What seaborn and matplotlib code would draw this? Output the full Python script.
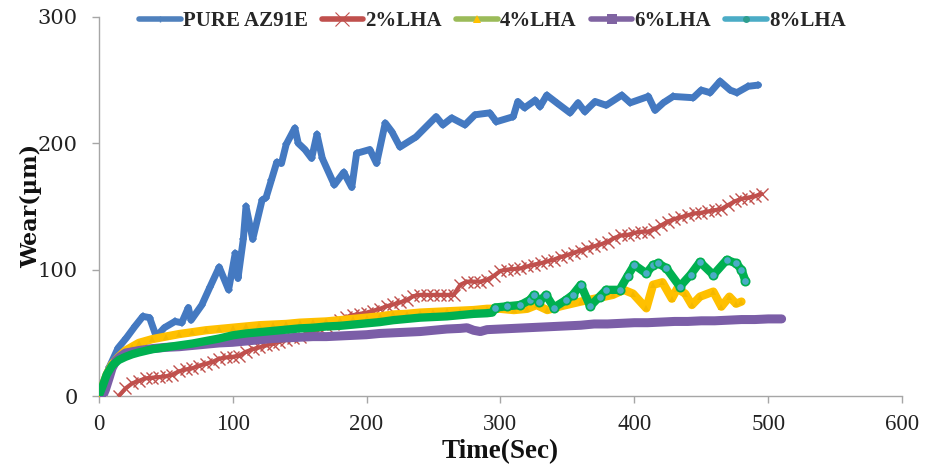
import matplotlib
matplotlib.use("Agg")
import matplotlib.pyplot as plt
from matplotlib.lines import Line2D
import seaborn as sns
import pandas as pd

# ---------------- data ----------------
pure_t = [0, 4, 8, 14.5, 20.7, 27, 33, 38, 43, 49, 57, 62, 67, 69, 77, 83, 90, 97, 102, 104,
          108, 110, 115, 122, 125, 129, 133, 136.5, 140, 146.5, 149, 154, 159, 163, 167, 176,
          183, 189, 192.6, 202.5, 207.5, 214, 219, 225, 237, 252, 257, 263.6, 273.5, 281, 292,
          297, 309.6, 313, 318, 326, 329.6, 334.6, 342, 352, 358, 363, 370.7, 379, 390.6, 397,
          410.5, 415.5, 421.7, 429, 444, 450, 456.6, 464, 471.6, 476.6, 485, 492.7]
pure_w = [0, 12, 23, 38, 46, 55, 63, 62, 47, 54, 59, 58, 70, 60, 72, 86, 102, 84, 113, 93,
          124, 150, 124, 155, 157, 171, 185, 184, 199, 212, 200, 195, 188, 207, 188, 167,
          177, 165, 192, 195, 184, 216, 209, 197, 205, 221, 214.5, 220, 214.5, 222.5, 224,
          217, 221, 233, 228, 234, 229, 238, 232, 224, 232, 225, 233, 230, 238, 232,
          237, 226, 232, 237, 236, 242, 240, 249, 242, 240, 245, 246]

lha2_t = [15, 20, 25, 30, 35, 40, 45, 50, 55, 60, 65, 70, 75, 80, 85, 90, 95, 100, 105, 110,
          115, 120, 125, 130, 135, 140, 145, 150, 155, 160, 165, 170, 175, 180, 185, 190, 195,
          200, 205, 210, 215, 220, 225, 230, 235, 240, 245, 250, 255, 260, 265, 270, 275, 280,
          285, 290, 295, 300, 305, 310, 315, 320, 325, 330, 335, 340, 345, 350, 355, 360, 365,
          370, 375, 380, 385, 390, 395, 400, 405, 410, 415, 420, 425, 430, 435, 440, 445, 450,
          455, 460, 465, 470, 475, 480, 485, 490, 495]
lha2_w = [0, 6, 10, 12, 14, 14.5, 15, 15.5, 17, 19.5, 21, 22, 24, 25.5, 27, 29.5, 30.5, 31, 32, 35,
          37, 38.5, 40, 41.5, 43, 44.5, 46, 47, 49, 51, 53, 55, 57, 60, 62.5, 64, 65,
          66, 67.5, 69, 71, 72.5, 74, 76, 79, 80, 80, 80, 80, 80, 80, 88, 90.5, 90.5,
          90.5, 92, 95, 99, 100, 100.5, 101, 102.5, 104, 105, 106.5, 108, 110, 111.5, 113.5, 115, 117,
          118.5, 120, 122, 125, 127, 127.5, 129, 130, 130, 132, 135, 138, 140, 141.5, 143, 144.5, 145,
          146, 147, 148, 151, 154, 156, 157, 158, 160]

lha4_t = [0, 3, 6, 10, 15, 20, 25, 30, 40, 50, 60, 70, 80, 90, 100, 110, 120, 130, 140, 150,
          160, 170, 180, 190, 200, 210, 220, 230, 240, 250, 260, 270, 280, 290, 300, 310, 320,
          327, 335, 345, 360, 375, 384, 392, 399, 409, 414, 421, 428, 432, 438, 443, 449, 459,
          465, 471, 476, 480]
lha4_w = [0, 8, 17, 25, 31, 36, 39, 42, 45, 47, 49, 50.5, 52, 53, 54, 55, 56, 56.5, 57, 58,
          58.5, 59, 60, 61, 62, 63, 64.5, 65, 66, 66.5, 67, 67.5, 68, 69, 69, 68, 69,
          72, 68, 71, 74.7, 78, 80, 84, 81, 69.4, 88, 90, 77, 85, 81, 72, 78.6, 82.6,
          70.7, 78.6, 73, 74.7]

lha6_t = [3, 5, 8, 10, 13, 16, 20, 30, 40, 50, 60, 70, 80, 90, 100, 110, 120, 130, 140, 150,
          160, 170, 180, 190, 200, 210, 220, 230, 240, 250, 260, 270, 275, 280, 285, 290, 300,
          310, 320, 330, 340, 350, 360, 370, 380, 390, 400, 410, 420, 430, 440, 450, 460, 470,
          480, 490, 500, 510]
lha6_w = [0, 5, 15, 22, 28, 31, 34, 36, 37.5, 38.5, 39, 40, 41, 42, 42.5, 43.5, 44.5, 45.5, 46, 46.5,
          47, 47, 47.5, 48, 48.5, 49.5, 50, 50.5, 51, 52, 53, 53.5, 54, 52, 51, 52.5, 53,
          53.5, 54, 54.5, 55, 55.5, 56, 57, 57, 57.5, 58, 58, 58.5, 59, 59, 59.5, 59.5, 60,
          60.5, 60.5, 61, 61]

lha8_t = [0, 3, 6, 10, 15, 20, 25, 30, 40, 50, 60, 70, 80, 90, 100, 110, 120, 130, 140, 150,
          160, 170, 180, 190, 200, 210, 220, 230, 240, 250, 260, 270, 280, 290, 294, 296, 305,
          315, 322, 325, 329, 334, 340, 349, 354, 360, 367, 374, 379, 389, 395, 400, 409, 414,
          418, 424, 434, 442, 449, 459, 469, 476, 480, 483]
lha8_w = [0, 8, 17, 24, 28.5, 31, 33, 34.5, 37, 38.5, 40, 41.5, 43.5, 45.5, 48, 49.5, 50.5, 51.5, 52.5, 53.5,
          54, 55, 55.5, 56.5, 57.5, 58.5, 60, 61, 62, 62.5, 63, 64, 65, 65.5, 66, 70, 71,
          72, 76, 80, 74.7, 80, 70, 76, 80, 88, 71, 78.6, 84, 84, 95, 103.7, 97, 103.7,
          105, 101, 86.6, 96, 106, 95.8, 107.7, 105, 100, 91]

names = ["PURE AZ91E", "2%LHA", "4%LHA", "6%LHA", "8%LHA"]
x_ticks = [0, 100, 200, 300, 400, 500, 600]
y_ticks = [0, 100, 200, 300]

# ---------------- plot ----------------
sns.set_theme(style="white")
fig = plt.figure(figsize=(9.31, 4.67), dpi=100)
ax = fig.add_axes([0.106, 0.152, 0.863, 0.812])

def draw(t, w, **kw):
    df = pd.DataFrame({"t": t, "w": w})
    sns.lineplot(data=df, x="t", y="w", ax=ax, sort=False, estimator=None, legend=False, **kw)

draw(pure_t, pure_w, color="#4479C1", linewidth=5, marker="D", markersize=4,
     markeredgewidth=0, zorder=3)
draw(lha2_t, lha2_w, color="#C0504D", linewidth=3, marker="x", markersize=8.5,
     markeredgewidth=1.0, markeredgecolor="#C0504D", zorder=3)
draw(lha4_t, lha4_w, color="#FFC000", linewidth=6, marker="^", markersize=5,
     markeredgewidth=0, markerfacecolor="#F4B800", zorder=3)
draw(lha6_t, lha6_w, color="#7B5EA7", linewidth=6.5, marker="s", markersize=4,
     markeredgewidth=0, zorder=3)
noisy = [i for i, t in enumerate(lha8_t) if t >= 296]
draw(lha8_t, lha8_w, color="#00B050", linewidth=6, marker="o", markersize=6,
     markeredgewidth=1.2, markerfacecolor="#4BACC6", markeredgecolor="#00B050",
     markevery=noisy, zorder=4)

ax.set_xlim(0, 600)
ax.set_ylim(0, 300)
ax.set_xticks(x_ticks)
ax.set_yticks(y_ticks)
ax.set_xticklabels([str(v) for v in x_ticks], fontfamily="Liberation Serif", fontsize=16.5)
ax.set_yticklabels([str(v) for v in y_ticks], fontfamily="DejaVu Serif", fontsize=15)
ax.tick_params(axis="both", direction="out", length=5, width=1, color="#A6A6A6",
               colors="#222222")
ax.tick_params(axis="y", pad=10)
ax.tick_params(axis="x", pad=8)
ax.tick_params(axis="both", which="both", bottom=True, left=True)
for s in ["top", "right"]:
    ax.spines[s].set_visible(False)
for s in ["left", "bottom"]:
    ax.spines[s].set_color("#A6A6A6")
    ax.spines[s].set_linewidth(1)
ax.grid(False)

ax.set_xlabel("Time(Sec)", fontfamily="Liberation Serif", fontweight="bold", fontsize=19.5,
              color="#111111", labelpad=3)
ax.set_ylabel("Wear(µm)", fontfamily="DejaVu Serif", fontweight="bold", fontsize=16,
              color="#111111", labelpad=-3)

handles = [
    Line2D([], [], color="#4F81BD", lw=4, marker="|", markersize=5, markeredgecolor="#4F81BD"),
    Line2D([], [], color="#C0504D", lw=4, marker="x", markersize=10, markeredgewidth=0.8),
    Line2D([], [], color="#9BBB59", lw=4, marker="^", markersize=6, markerfacecolor="#FFC000",
           markeredgewidth=0),
    Line2D([], [], color="#8064A2", lw=4, marker="s", markersize=7, markeredgewidth=0),
    Line2D([], [], color="#4BACC6", lw=4, marker="o", markersize=5, markerfacecolor="#2E9E8F",
           markeredgewidth=0),
]
leg = ax.legend(handles, names, loc="upper center", bbox_to_anchor=(0.49, 1.065), ncol=5,
                frameon=False, handlelength=2.0, handletextpad=0.1, columnspacing=0.68,
                prop={"family": "Liberation Serif", "weight": "bold", "size": 15})

fig.savefig("out.png", dpi=100)
